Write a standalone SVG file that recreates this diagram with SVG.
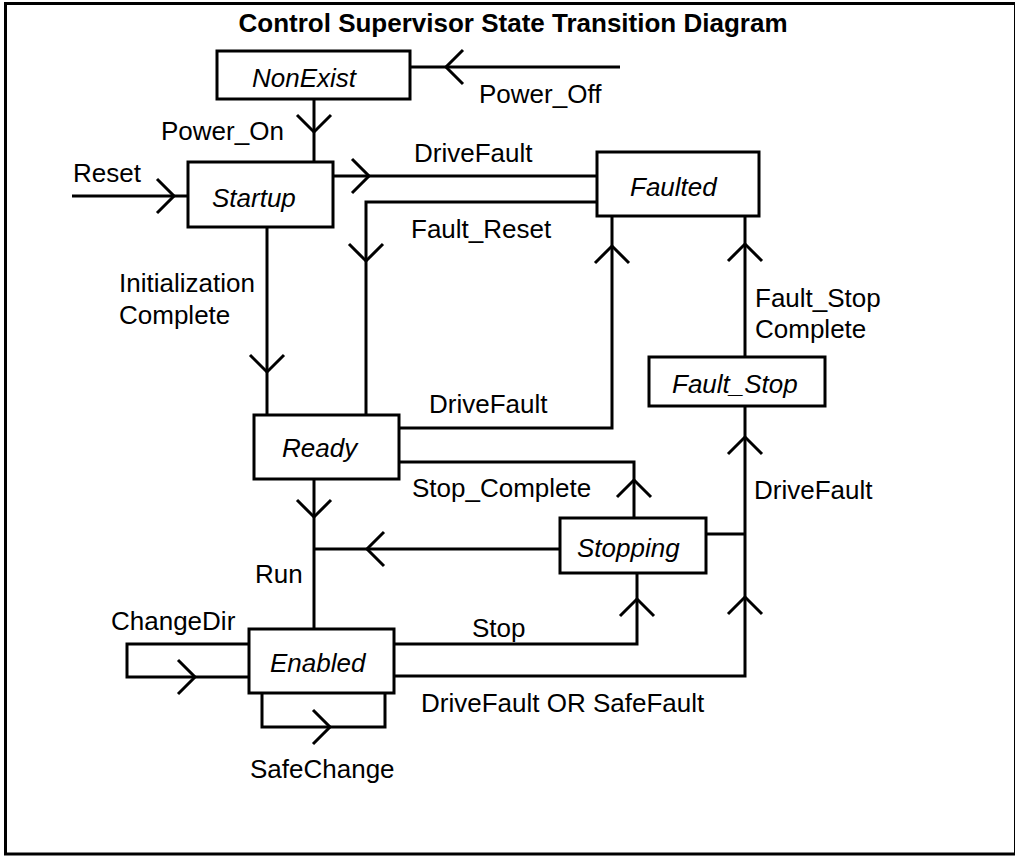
<svg xmlns="http://www.w3.org/2000/svg" xmlns:xlink="http://www.w3.org/1999/xlink" width="1015" height="856" viewBox="0 0 1015 856">
<style>
text{font-family:"Liberation Sans",Arial,Helvetica,sans-serif;font-size:26px;fill:#000}
.title{font-weight:bold}
.state{font-style:italic}
.box{fill:#fff;stroke:#000;stroke-width:3}
.wire{fill:none;stroke:#000;stroke-width:3;stroke-linejoin:miter}
.chev{fill:none;stroke:#000;stroke-width:3}
</style>
<defs>
<path id="chev" class="chev" d="M-17,-17 L0,0 L-17,17"/>
</defs>
<rect x="5.5" y="3.5" width="1010" height="850.5" fill="#fff" stroke="#000" stroke-width="3"/>
<text class="title" x="513" y="31.5" text-anchor="middle">Control Supervisor State Transition Diagram</text>

<g id="connectors">
<path class="wire" d="M620,67 H410"/>
<use xlink:href="#chev" transform="translate(446,67) rotate(180)"/>
<path class="wire" d="M314,99 V162"/>
<use xlink:href="#chev" transform="translate(314,132) rotate(90)"/>
<path class="wire" d="M72,196 H188"/>
<use xlink:href="#chev" transform="translate(174,196)"/>
<path class="wire" d="M333,176 H597"/>
<use xlink:href="#chev" transform="translate(369,176)"/>
<path class="wire" d="M597,202 H366 V415"/>
<use xlink:href="#chev" transform="translate(366,261) rotate(90)"/>
<path class="wire" d="M267,227 V415"/>
<use xlink:href="#chev" transform="translate(267,372) rotate(90)"/>
<path class="wire" d="M399,428 H612 V216"/>
<use xlink:href="#chev" transform="translate(612,246) rotate(-90)"/>
<path class="wire" d="M745,357 V216"/>
<use xlink:href="#chev" transform="translate(745,244) rotate(-90)"/>
<path class="wire" d="M634,518 V462 H399"/>
<use xlink:href="#chev" transform="translate(634,480) rotate(-90)"/>
<path class="wire" d="M314,479 V629"/>
<use xlink:href="#chev" transform="translate(314,517) rotate(90)"/>
<path class="wire" d="M560,549 H314"/>
<use xlink:href="#chev" transform="translate(367,549) rotate(180)"/>
<path class="wire" d="M394,644 H637 V573"/>
<use xlink:href="#chev" transform="translate(637,599) rotate(-90)"/>
<path class="wire" d="M394,676 H745 V406"/>
<use xlink:href="#chev" transform="translate(745,597) rotate(-90)"/>
<use xlink:href="#chev" transform="translate(745,437) rotate(-90)"/>
<path class="wire" d="M706,534 H745"/>
<path class="wire" d="M249,644 H127 V677 H249"/>
<use xlink:href="#chev" transform="translate(195,677)"/>
<path class="wire" d="M262,693 V727 H385 V693"/>
<use xlink:href="#chev" transform="translate(330,727)"/>
</g>

<g id="labels">
<text x="479" y="103">Power_Off</text>
<text x="161" y="140">Power_On</text>
<text x="73" y="182">Reset</text>
<text x="414" y="162">DriveFault</text>
<text x="411" y="238">Fault_Reset</text>
<text x="119" y="292">Initialization</text>
<text x="119" y="324">Complete</text>
<text x="755" y="307">Fault_Stop</text>
<text x="755" y="338">Complete</text>
<text x="429" y="413">DriveFault</text>
<text x="412" y="497">Stop_Complete</text>
<text x="754" y="499">DriveFault</text>
<text x="255" y="583">Run</text>
<text x="111" y="630">ChangeDir</text>
<text x="472" y="637">Stop</text>
<text x="421" y="712">DriveFault OR SafeFault</text>
<text x="250" y="778">SafeChange</text>
</g>

<g id="NonExist"><rect class="box" x="217" y="51" width="193" height="48"/><text class="state" x="252" y="87">NonExist</text></g>
<g id="Startup"><rect class="box" x="188" y="162" width="145" height="65"/><text class="state" x="212" y="207">Startup</text></g>
<g id="Faulted"><rect class="box" x="597" y="152" width="162" height="64"/><text class="state" x="630" y="196">Faulted</text></g>
<g id="Fault_Stop"><rect class="box" x="649" y="357" width="176" height="49"/><text class="state" x="672" y="393">Fault_Stop</text></g>
<g id="Ready"><rect class="box" x="254" y="415" width="145" height="64"/><text class="state" x="282" y="457">Ready</text></g>
<g id="Stopping"><rect class="box" x="560" y="518" width="146" height="55"/><text class="state" x="577" y="557">Stopping</text></g>
<g id="Enabled"><rect class="box" x="249" y="629" width="145" height="64"/><text class="state" x="270" y="672">Enabled</text></g>
</svg>
